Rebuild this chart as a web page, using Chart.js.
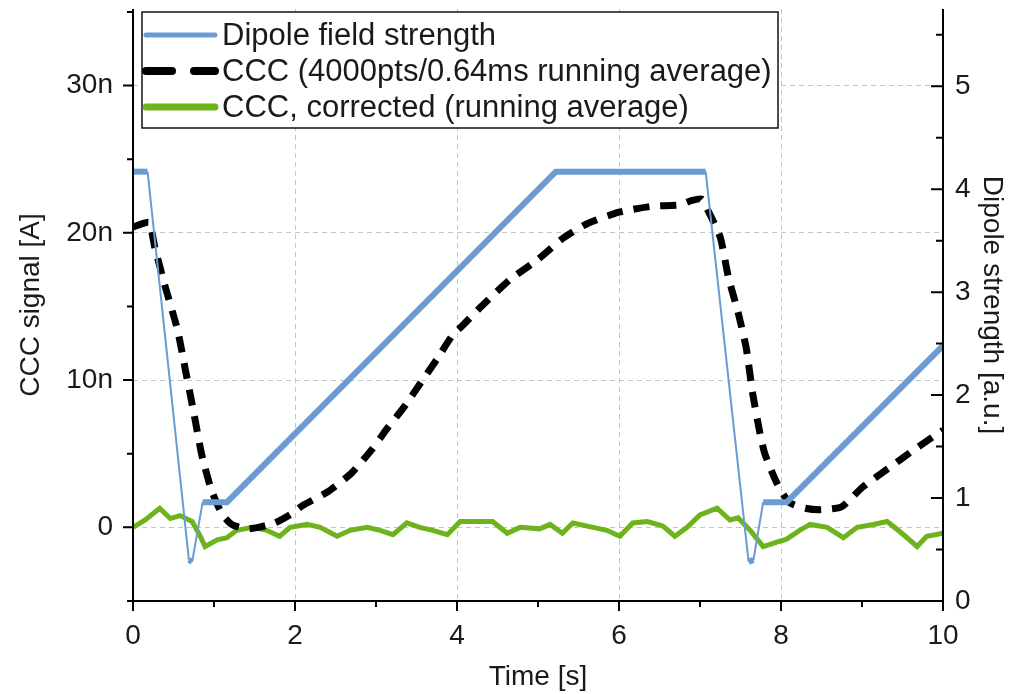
<!DOCTYPE html>
<html>
<head>
<meta charset="utf-8">
<script src="https://cdn.jsdelivr.net/npm/chart.js@4.4.1/dist/chart.umd.min.js"></script>
<style>
  body { margin: 0; background: #fff; }
  #wrap { width: 1012px; height: 694px; }
</style>
</head>
<body>
<div id="wrap"><canvas id="chart" width="1012" height="694"></canvas></div>
<script>
// dipole field strength (right axis, a.u.)
var dipoleTime  = [0, 0.18, 0.69, 0.73, 0.86, 1.16, 5.22, 7.07, 7.60, 7.66, 7.78, 8.07, 10];
var dipoleValue = [4.17, 4.17, 0.40, 0.38, 0.96, 0.96, 4.17, 4.17, 0.38, 0.40, 0.96, 0.96, 2.48];

// CCC running average (left axis, nA)
var cccTime  = [0, 0.10, 0.20, 0.27, 0.40, 0.55, 0.65, 0.75, 0.85, 0.97, 1.10, 1.22, 1.40, 1.55, 1.75, 1.95,
                2.10, 2.40, 2.70, 2.95, 3.15, 3.35, 3.55, 3.75, 3.95, 4.05, 4.30, 4.65, 5.00, 5.30, 5.60,
                6.00, 6.40, 6.75, 6.90, 7.02, 7.10, 7.25, 7.35, 7.47, 7.57, 7.65, 7.74, 7.80, 7.95, 8.10,
                8.30, 8.50, 8.75, 9.00, 9.35, 9.65, 10];
var cccValue = [20.4, 20.6, 20.7, 19.0, 16.3, 13.4, 10.6, 7.8, 4.9, 2.5, 0.9, 0.2, -0.1, 0.0, 0.3, 0.9,
                1.5, 2.4, 3.7, 5.3, 6.8, 8.2, 9.8, 11.4, 13.1, 13.6, 15.0, 16.8, 18.2, 19.6, 20.6,
                21.4, 21.8, 21.9, 22.2, 22.3, 21.5, 19.7, 17.0, 14.6, 12.2, 9.1, 6.4, 5.0, 3.0, 1.7,
                1.3, 1.2, 1.4, 2.7, 4.1, 5.3, 6.6];

// CCC corrected (left axis, nA)
var corrTime  = [0, 0.15, 0.33, 0.46, 0.58, 0.73, 0.83, 0.89, 1.04, 1.16, 1.28, 1.48, 1.65, 1.81, 1.94,
                 2.15, 2.31, 2.52, 2.68, 2.89, 3.05, 3.21, 3.38, 3.54, 3.70, 3.88, 4.04, 4.20, 4.44, 4.62,
                 4.78, 5.02, 5.15, 5.30, 5.43, 5.68, 5.85, 6.01, 6.17, 6.35, 6.54, 6.69, 6.84, 7.00, 7.21,
                 7.37, 7.47, 7.62, 7.78, 7.95, 8.07, 8.23, 8.36, 8.57, 8.77, 8.94, 9.14, 9.31, 9.47, 9.68,
                 9.80, 10];
var corrValue = [0, 0.5, 1.3, 0.6, 0.8, 0.4, -0.6, -1.3, -0.85, -0.7, -0.2, 0, -0.2, -0.6, 0,
                 0.2, 0, -0.6, -0.2, 0, -0.2, -0.5, 0.3, 0, -0.2, -0.5, 0.4, 0.4, 0.4, -0.4,
                 0, -0.1, 0.2, -0.4, 0.3, 0, -0.2, -0.6, 0.3, 0.4, 0.1, -0.6, 0, 0.85, 1.3,
                 0.5, 0.65, -0.2, -1.3, -1.0, -0.8, -0.2, 0.2, 0, -0.7, 0, 0.2, 0.4, -0.3, -1.3,
                 -0.6, -0.4];

var xTicks = [0, 2, 4, 6, 8, 10];
var xMinor = [1, 3, 5, 7, 9];
var leftTicks = [0, 10, 20, 30];
var leftMinor = [-5, 5, 15, 25, 35];
var rightTicks = [0, 1, 2, 3, 4, 5];
var rightMinor = [0.5, 1.5, 2.5, 3.5, 4.5, 5.5];

var legendLabels = ['Dipole field strength', 'CCC (4000pts/0.64ms running average)', 'CCC, corrected (running average)'];

function pairs(xs, ys) {
    return xs.map(function (x, i) { return {x: x, y: ys[i]}; });
}

function noEdgePadding(s) {
    s.paddingTop = 0;
    s.paddingBottom = 0;
    s.paddingLeft = 0;
    s.paddingRight = 0;
}

var textColor = '#1a1a1a';
var gridColor = '#c4c4c4';
var fontFamily = '"Liberation Sans", Arial, sans-serif';

// axis lines and tick marks, Origin style
var axisFrame = {
    id: 'axisFrame',
    afterDraw: function (chart) {
        var ctx = chart.ctx, a = chart.chartArea;
        var x = chart.scales.x, yl = chart.scales.y, yr = chart.scales.y2;
        ctx.save();
        ctx.strokeStyle = '#000';
        ctx.lineWidth = 2;
        ctx.beginPath();
        ctx.moveTo(a.left, a.top); ctx.lineTo(a.left, a.bottom);
        ctx.moveTo(a.left - 6, a.bottom); ctx.lineTo(a.right, a.bottom);
        ctx.moveTo(a.right, a.bottom); ctx.lineTo(a.right, a.top);
        ctx.stroke();
        ctx.beginPath();
        xTicks.forEach(function (v) { var p = x.getPixelForValue(v); ctx.moveTo(p, a.bottom); ctx.lineTo(p, a.bottom + 10); });
        xMinor.forEach(function (v) { var p = x.getPixelForValue(v); ctx.moveTo(p, a.bottom); ctx.lineTo(p, a.bottom + 6); });
        leftTicks.forEach(function (v) { var p = yl.getPixelForValue(v); ctx.moveTo(a.left, p); ctx.lineTo(a.left - 10, p); });
        leftMinor.forEach(function (v) { var p = yl.getPixelForValue(v); ctx.moveTo(a.left, p); ctx.lineTo(a.left - 6, p); });
        rightTicks.forEach(function (v) { var p = yr.getPixelForValue(v); ctx.moveTo(a.right, p); ctx.lineTo(a.right - 12, p); });
        rightMinor.forEach(function (v) { var p = yr.getPixelForValue(v); ctx.moveTo(a.right, p); ctx.lineTo(a.right - 7, p); });
        ctx.stroke();
        ctx.restore();
    }
};

// boxed legend in the top-left corner of the plot
var boxLegend = {
    id: 'boxLegend',
    afterDraw: function (chart) {
        var ctx = chart.ctx, a = chart.chartArea;
        var left = a.left + 9, top = a.top + 3, width = 636, height = 116;
        ctx.save();
        ctx.fillStyle = '#fff';
        ctx.fillRect(left, top, width, height);
        ctx.strokeStyle = '#111';
        ctx.lineWidth = 1.5;
        ctx.strokeRect(left, top, width, height);
        ctx.font = '31px ' + fontFamily;
        ctx.fillStyle = textColor;
        ctx.textBaseline = 'middle';
        var dashes = [[], [26, 22], []];
        var widths = [5, 8, 7];
        chart.data.datasets.forEach(function (ds, i) {
            var y = top + 23 + i * 36;
            ctx.beginPath();
            ctx.strokeStyle = ds.borderColor;
            ctx.lineWidth = widths[i];
            ctx.lineCap = 'round';
            ctx.setLineDash(dashes[i]);
            ctx.moveTo(left + 4, y);
            ctx.lineTo(left + 73, y);
            ctx.stroke();
            ctx.setLineDash([]);
            ctx.fillText(legendLabels[i], left + 80, y + 1);
        });
        ctx.restore();
    }
};

new Chart(document.getElementById('chart'), {
    type: 'line',
    data: {
        datasets: [
            {
                label: legendLabels[0],
                data: pairs(dipoleTime, dipoleValue),
                yAxisID: 'y2',
                borderColor: '#6a9bd1',
                borderWidth: 6,
                segment: {
                    borderWidth: function (c) {
                        var dx = c.p1.parsed.x - c.p0.parsed.x;
                        var dy = Math.abs(c.p1.parsed.y - c.p0.parsed.y);
                        return dy / dx > 3 ? 2 : 6;
                    }
                },
                pointRadius: 0,
                tension: 0
            },
            {
                label: legendLabels[1],
                data: pairs(cccTime, cccValue),
                yAxisID: 'y',
                borderColor: '#000',
                borderWidth: 7,
                borderDash: [16, 11],
                pointRadius: 0,
                tension: 0.2
            },
            {
                label: legendLabels[2],
                data: pairs(corrTime, corrValue),
                yAxisID: 'y',
                borderColor: '#6db31b',
                borderWidth: 5,
                pointRadius: 0,
                tension: 0
            }
        ]
    },
    options: {
        responsive: false,
        animation: false,
        layout: { padding: { top: 9, left: 0, right: 0, bottom: 0 } },
        plugins: {
            legend: { display: false },
            tooltip: { enabled: false }
        },
        scales: {
            x: {
                type: 'linear',
                min: 0,
                max: 10,
                afterBuildTicks: function (s) { s.ticks = xTicks.map(function (v) { return {value: v}; }); },
                afterFit: function (s) { s.height = 93; noEdgePadding(s); },
                border: { display: false, dash: [5, 4] },
                grid: {
                    drawTicks: false,
                    lineWidth: 1,
                    color: function (c) { return (c.tick && (c.tick.value === 0 || c.tick.value === 10)) ? 'rgba(0,0,0,0)' : gridColor; }
                },
                ticks: {
                    padding: 18,
                    color: textColor,
                    font: { family: fontFamily, size: 28 },
                    maxRotation: 0
                },
                title: {
                    display: true,
                    text: 'Time [s]',
                    color: textColor,
                    font: { family: fontFamily, size: 28 },
                    padding: { top: 0, bottom: 0 }
                }
            },
            y: {
                type: 'linear',
                position: 'left',
                min: -5,
                max: 35.2,
                afterBuildTicks: function (s) { s.ticks = leftTicks.map(function (v) { return {value: v}; }); },
                afterFit: function (s) { s.width = 133; noEdgePadding(s); },
                border: { display: false, dash: [5, 4] },
                grid: { drawTicks: false, lineWidth: 1, color: gridColor },
                ticks: {
                    padding: 20,
                    color: textColor,
                    font: { family: fontFamily, size: 28 },
                    callback: function (v) { return v === 0 ? '0' : v + 'n'; }
                },
                title: {
                    display: true,
                    text: 'CCC signal [A]',
                    color: textColor,
                    font: { family: fontFamily, size: 28 },
                    padding: { top: 14, bottom: 0 }
                }
            },
            y2: {
                type: 'linear',
                position: 'right',
                min: 0,
                max: 5.75,
                afterBuildTicks: function (s) { s.ticks = rightTicks.map(function (v) { return {value: v}; }); },
                afterFit: function (s) { s.width = 69; noEdgePadding(s); },
                border: { display: false },
                grid: { drawOnChartArea: false, drawTicks: false },
                ticks: {
                    padding: 12,
                    color: textColor,
                    font: { family: fontFamily, size: 28 }
                },
                title: {
                    display: true,
                    text: 'Dipole strength [a.u.]',
                    color: textColor,
                    font: { family: fontFamily, size: 28 },
                    padding: { top: 3, bottom: 0 }
                }
            }
        }
    },
    plugins: [axisFrame, boxLegend]
});
</script>
</body>
</html>
